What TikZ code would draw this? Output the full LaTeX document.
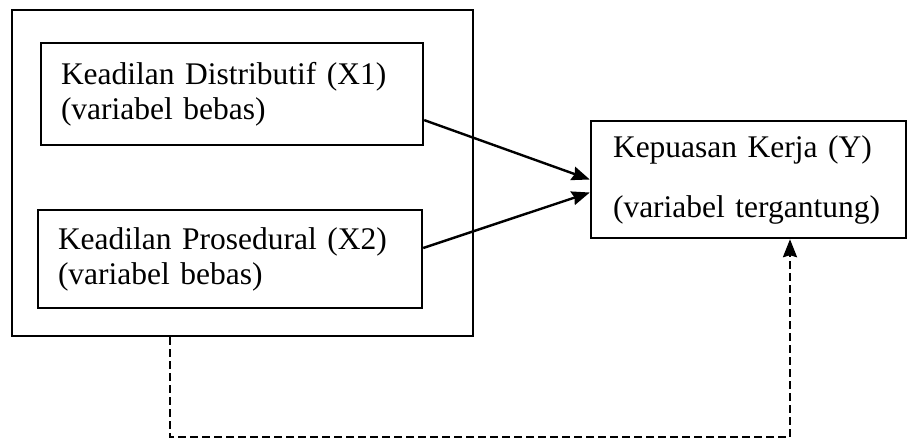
\documentclass[tikz,border=0pt]{standalone}
\usepackage{fontspec}
\setmainfont[WordSpace=0.7]{Liberation Serif}
\usetikzlibrary{arrows.meta,calc}

\tikzset{
  frame/.style={draw, line width=2.4pt, rectangle, inner sep=0pt},
  varbox/.style={draw, line width=2.4pt, rectangle, align=left,
    inner ysep=0pt, font=\fontsize{31.5}{35}\selectfont},
  link/.style={line width=2.4pt, -{Stealth[length=18pt,width=14pt,inset=2pt]}},
  dashlink/.style={link, dash pattern=on 8pt off 4pt}
}

\begin{document}
\begin{tikzpicture}[x=1pt, y=-1pt]
  \useasboundingbox (0,0) rectangle (909,440);

  % enclosing frame for the two independent variables
  \node[frame, minimum width=461pt, minimum height=326pt] (outer) at (242.5,173) {};

  % independent variables
  \node[varbox, inner xsep=20pt, text width=342pt, minimum height=102pt]
    (x1) at (232,94) {Keadilan Distributif (X1)\\(variabel bebas)};
  \node[varbox, inner xsep=20pt, text width=344pt, minimum height=98pt]
    (x2) at (230,259) {Keadilan Prosedural (X2)\\(variabel bebas)};

  % dependent variable
  \node[varbox, inner xsep=22pt, text width=271pt, minimum height=117pt,
        font=\fontsize{31.5}{60}\selectfont]
    (y) at (748.5,179.5) {Kepuasan Kerja (Y)\\(variabel tergantung)};

  % direct effects
  \draw[link] ($(x1.south east)!0.25!(x1.north east)$) -- (y.west);
  \draw[link] ([yshift=11pt]x2.east) -- ([yshift=-13pt]y.west);

  % joint effect
  \coordinate (d1) at (170,437);
  \coordinate (d2) at (790,437);
  \draw[dashlink] (outer.south -| d1) -- (d1) -- (d2) -- (d2 |- y.south);
\end{tikzpicture}
\end{document}
